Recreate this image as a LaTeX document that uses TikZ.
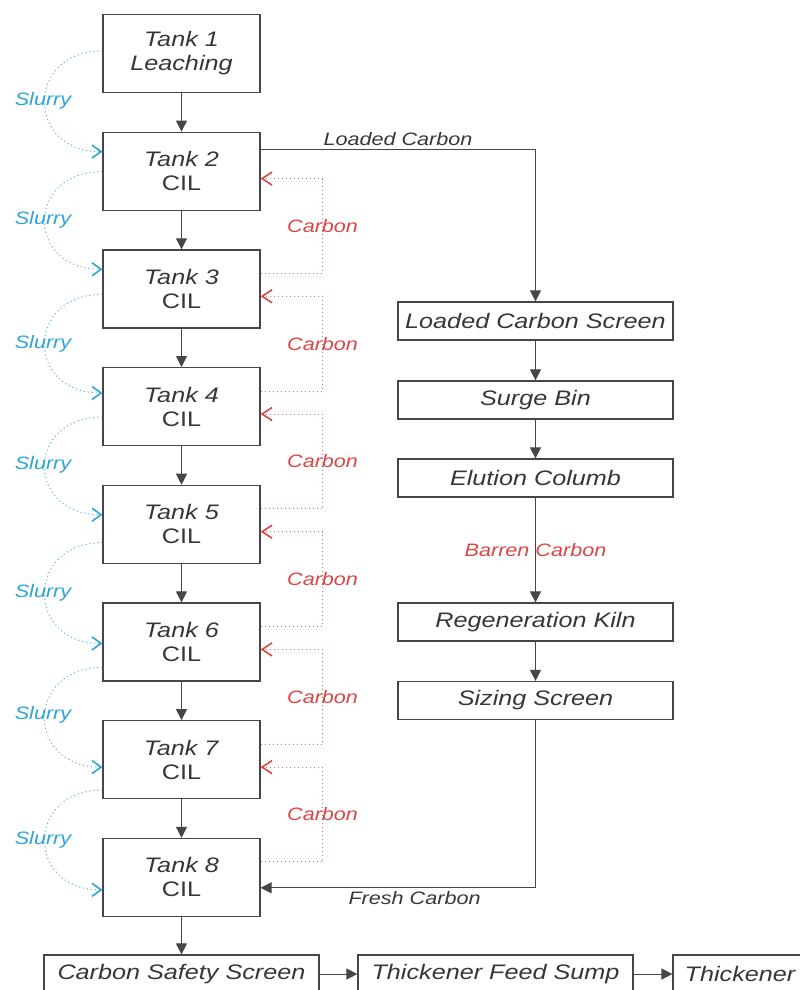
\documentclass[tikz,border=0pt]{standalone}
\usepackage{fontspec}
\setmainfont{Liberation Sans}[FakeStretch=1.2]
\usetikzlibrary{arrows.meta}
\definecolor{boxline}{RGB}{70,70,70}
\definecolor{boxtext}{RGB}{55,55,55}
\definecolor{slurryblue}{RGB}{45,165,215}
\definecolor{slurryline}{RGB}{110,180,215}
\definecolor{carbonred}{RGB}{218,70,70}
\definecolor{carbonline}{RGB}{225,110,110}

\begin{document}
\begin{tikzpicture}[x=1pt,y=-1pt,
   tank/.style={draw=boxline,line width=1.2pt,fill=white,minimum width=157pt,minimum height=78pt,align=center,font=\fontsize{21}{24}\selectfont,text=boxtext},
   unit/.style={draw=boxline,line width=1.2pt,fill=white,minimum width=275pt,minimum height=38pt,inner sep=2pt,font=\fontsize{21}{24}\selectfont\itshape,text=boxtext},
   flow/.style={boxline,line width=1pt,-{Triangle[width=11pt,length=11pt]}},
   slurry/.style={slurryline,line width=1pt,dash pattern=on 1.2pt off 2.8pt,-{Straight Barb[width=13pt,length=9pt,line width=1.6pt,color=slurryblue]}},
   carbon/.style={carbonline,line width=1pt,dash pattern=on 1.2pt off 2.8pt,-{Straight Barb[width=13pt,length=10pt,line width=1.6pt,color=carbonred]}},
   lbl/.style={font=\fontsize{18}{20}\selectfont\itshape,text=boxtext}]
   \useasboundingbox (0,0) rectangle (800,990);

   % tanks
   \node[tank] (t1) at (181.5,53.5) {\textit{Tank 1}\\\textit{Leaching}};
   \foreach \k in {2,...,8}
      \node[tank] (t\k) at (181.5,{53.5+117.7*(\k-1)}) {\textit{Tank \k}\\CIL};
   \foreach \k [remember=\k as \p (initially 1)] in {2,...,8}
      \draw[flow] (t\p) -- (t\k);

   % carbon circuit
   \node[unit] (lcs) at (535.5,321) {Loaded Carbon Screen};
   \node[unit] (sbin) at (535.5,400) {Surge Bin};
   \node[unit] (elu) at (535.5,478) {Elution Columb};
   \node[unit] (kiln) at (535.5,622) {Regeneration Kiln};
   \node[unit] (siz) at (535.5,700.5) {Sizing Screen};

   % tailings
   \node[unit] (css) at (181.5,974) {Carbon Safety Screen};
   \node[unit] (tfs) at (495.5,974) {Thickener Feed Sump};
   \node[unit,minimum width=134pt] (thk) at (740,974) {Thickener};

   \draw[flow] ([yshift=-18pt]t2.north east) -| node[pos=0.25,above,lbl] (lc) {Loaded Carbon} (lcs);
   \draw[flow] (lcs) -- (sbin);
   \draw[flow] (sbin) -- (elu);
   \draw[flow] (elu) -- node[lbl,text=carbonred] (bc) {Barren Carbon} (kiln);
   \draw[flow] (kiln) -- (siz);
   \draw[flow] (siz) |- node[pos=0.72,below,lbl] (fc) {Fresh Carbon} ([yshift=-50pt]t8.north east);
   \draw[flow] (t8) -- (css);
   \draw[flow] (css) -- (tfs);
   \draw[flow] (tfs) -- (thk);

   % carbon moves up the tanks
   \foreach \k [remember=\k as \p (initially 2)] in {3,...,8}
      \draw[carbon] ([yshift=-24pt]t\k.north east) -- ++(62,0)
         |- node[pos=0.25,lbl,text=carbonred] (cb\k) {Carbon} ([yshift=-47pt]t\p.north east);

   % slurry moves down the tanks
   \foreach \k/\n/\so/\si/\ly in {1/2/-37pt/-20pt/101, 2/3/-40pt/-20pt/220, 3/4/-45pt/-26pt/344,
         4/5/-50pt/-30pt/465, 5/6/-58pt/-41pt/593, 6/7/-65pt/-47pt/715, 7/8/-70pt/-52pt/840} {
      \draw[slurry] ([yshift=\so]t\k.north west) .. controls +(-77,0) and +(-77,0) .. ([yshift=\si]t\n.north west);
      \node[lbl,text=slurryblue] (sl\k) at (43,\ly) {Slurry};
   }
\end{tikzpicture}
\end{document}
